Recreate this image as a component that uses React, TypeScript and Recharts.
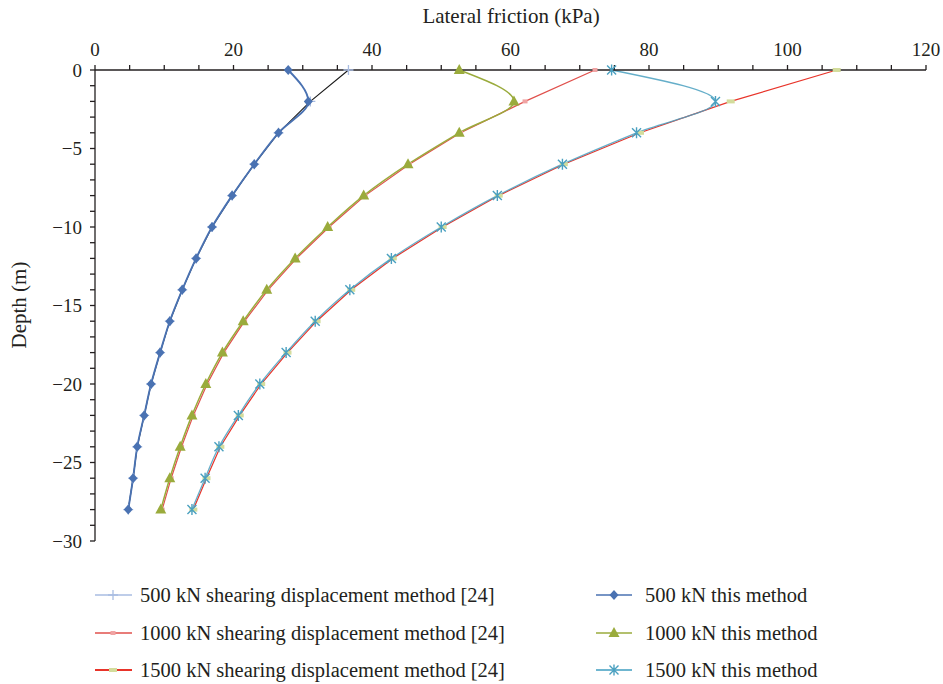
import React from "react";
import { LineChart, Line, XAxis, YAxis } from "recharts";

// depth (m) of each measuring point
const depths = [0, -2, -4, -6, -8, -10, -12, -14, -16, -18, -20, -22, -24, -26, -28];

// lateral friction (kPa)
const shear500 = [36.6, 31.1, 26.5, 23.0, 19.8, 16.9, 14.6, 12.6, 10.8, 9.4, 8.1, 7.1, 6.1, 5.5, 4.8];
const shear1000 = [72.2, 62.1, 52.8, 45.4, 39.0, 33.8, 29.1, 25.0, 21.6, 18.6, 16.2, 14.2, 12.5, 11.0, 9.7];
const shear1500 = [107.1, 91.8, 78.7, 67.7, 58.3, 50.2, 43.0, 37.0, 32.0, 27.8, 24.0, 20.9, 18.1, 16.1, 14.2];
const method500 = [27.9, 30.8, 26.5, 23.0, 19.8, 16.9, 14.6, 12.6, 10.8, 9.4, 8.1, 7.1, 6.1, 5.5, 4.8];
const method1000 = [52.6, 60.5, 52.6, 45.2, 38.8, 33.6, 28.9, 24.8, 21.4, 18.4, 16.0, 14.0, 12.3, 10.8, 9.5];
const method1500 = [74.6, 89.6, 78.2, 67.5, 58.1, 50.0, 42.8, 36.8, 31.8, 27.6, 23.8, 20.7, 17.9, 15.9, 14.0];

const xTicks = Array.from({ length: 25 }, (_, i) => i * 5);
const yTicks = Array.from({ length: 31 }, (_, i) => -i);

const legendNames = [
  "500 kN shearing displacement method [24]",
  "1000 kN shearing displacement method [24]",
  "1500 kN shearing displacement method [24]",
  "500 kN this method",
  "1000 kN this method",
  "1500 kN this method",
];

const rows = depths.map((depth, i) => ({
  depth,
  s500: shear500[i],
  s1000: shear1000[i],
  s1500: shear1500[i],
  m500: method500[i],
  m1000: method1000[i],
  m1500: method1500[i],
}));

const FONT = '"Liberation Serif", "DejaVu Serif", serif';
const INK = "#231f20";

const C = {
  s500Line: "#1a1a1a",
  s500Mark: "#a9bde2",
  s1000Line: "#e0504c",
  s1000Mark: "#f0a3a3",
  s1500Line: "#e8342a",
  s1500Mark: "#d3dc9c",
  m500: "#4a72b2",
  m1000: "#9aab3c",
  m1500: "#4aa0c0",
};

// marker shapes
const plus = (x: number, y: number, c: string, k?: string) => (
  <path key={k} d={`M${x - 5},${y}H${x + 5}M${x},${y - 5}V${y + 5}`} stroke={c} strokeWidth={1.3} fill="none" />
);
const rect = (x: number, y: number, w: number, h: number, c: string, k?: string) => (
  <rect key={k} x={x - w / 2} y={y - h / 2} width={w} height={h} fill={c} />
);
const diamond = (x: number, y: number, c: string, k?: string) => (
  <path key={k} d={`M${x},${y - 5}L${x + 4.5},${y}L${x},${y + 5}L${x - 4.5},${y}Z`} fill={c} />
);
const triangle = (x: number, y: number, c: string, k?: string) => (
  <path key={k} d={`M${x},${y - 6}L${x + 5.5},${y + 4}L${x - 5.5},${y + 4}Z`} fill={c} />
);
const star = (x: number, y: number, c: string, k?: string) => (
  <path
    key={k}
    d={`M${x - 4.5},${y - 4.5}L${x + 4.5},${y + 4.5}M${x - 4.5},${y + 4.5}L${x + 4.5},${y - 4.5}M${x},${y - 5.5}V${y + 5.5}`}
    stroke={c}
    strokeWidth={1.4}
    fill="none"
  />
);

const dotOf = (name: string, draw: (x: number, y: number, k: string) => React.ReactElement) =>
  (p: any) => draw(p.cx, p.cy, `${name}-${p.index}`);

const Legend = () => {
  const rowsY = [595, 633, 670];
  const icons = [
    (y: number) => (
      <g>
        <line x1={95} x2={132} y1={y} y2={y} stroke={C.s500Mark} strokeWidth={1.5} />
        {plus(113, y, C.s500Mark)}
      </g>
    ),
    (y: number) => (
      <g>
        <line x1={95} x2={132} y1={y} y2={y} stroke={C.s1000Line} strokeWidth={1.5} />
        {rect(113, y, 5, 4, C.s1000Mark)}
      </g>
    ),
    (y: number) => (
      <g>
        <line x1={95} x2={132} y1={y} y2={y} stroke={C.s1500Line} strokeWidth={2} />
        {rect(113, y, 8, 4, C.s1500Mark)}
      </g>
    ),
    (y: number) => (
      <g>
        <line x1={596} x2={632} y1={y} y2={y} stroke={C.m500} strokeWidth={1.5} />
        {diamond(614, y, C.m500)}
      </g>
    ),
    (y: number) => (
      <g>
        <line x1={596} x2={632} y1={y} y2={y} stroke={C.m1000} strokeWidth={1.5} />
        {triangle(614, y, C.m1000)}
      </g>
    ),
    (y: number) => (
      <g>
        <line x1={596} x2={632} y1={y} y2={y} stroke="#6fb6d0" strokeWidth={2} />
        {star(614, y, C.m1500)}
      </g>
    ),
  ];
  return (
    <svg width={943} height={684} style={{ position: "absolute", left: 0, top: 0, pointerEvents: "none" }}>
      {legendNames.map((name, i) => {
        const y = rowsY[i % 3];
        const tx = i < 3 ? 140 : 645;
        return (
          <g key={name}>
            {icons[i](y)}
            <text x={tx} y={y} dominantBaseline="central" fontFamily={FONT} fontSize={20.5} fill={INK}>
              {name}
            </text>
          </g>
        );
      })}
    </svg>
  );
};

const fmtX = (v: number) => (v % 20 === 0 ? String(v) : "");
const fmtY = (v: number) => (v % 5 === 0 ? (v < 0 ? `\u2212${-v}` : String(v)) : "");

export default function App() {
  return (
    <div style={{ position: "absolute", left: 0, top: 0, width: 943, height: 684, background: "#fff" }}>
      <LineChart
        layout="vertical"
        width={943}
        height={684}
        data={rows}
        margin={{ top: 30, right: 17, left: 35, bottom: 143 }}
      >
        <XAxis
          type="number"
          orientation="top"
          domain={[0, 120]}
          ticks={xTicks}
          interval={0}
          tickFormatter={fmtX}
          height={40}
          tickSize={5}
          tickMargin={9}
          stroke={INK}
          strokeWidth={1.3}
          tick={{ fontFamily: FONT, fontSize: 19, fill: INK }}
          label={{
            content: () => (
              <text x={511} y={16} textAnchor="middle" dominantBaseline="central" fontFamily={FONT} fontSize={21} fill={INK}>
                Lateral friction (kPa)
              </text>
            ),
          }}
        />
        <YAxis
          type="number"
          dataKey="depth"
          domain={[-30, 0]}
          reversed
          ticks={yTicks}
          interval={0}
          tickFormatter={fmtY}
          width={60}
          tickSize={5}
          tickMargin={8}
          stroke={INK}
          strokeWidth={1.3}
          tick={{ fontFamily: FONT, fontSize: 19, fill: INK }}
          label={{
            content: () => (
              <text
                x={19}
                y={305}
                transform="rotate(-90 19 305)"
                textAnchor="middle"
                dominantBaseline="central"
                fontFamily={FONT}
                fontSize={21}
                fill={INK}
              >
                Depth (m)
              </text>
            ),
          }}
        />
        <Line
          dataKey="s500"
          type="linear"
          stroke={C.s500Line}
          strokeWidth={1.1}
          dot={dotOf("s500", (x, y, k) => plus(x, y, C.s500Mark, k))}
          activeDot={false}
          isAnimationActive={false}
        />
        <Line
          dataKey="s1000"
          type="linear"
          stroke={C.s1000Line}
          strokeWidth={1.2}
          dot={dotOf("s1000", (x, y, k) => rect(x, y, 5, 4, C.s1000Mark, k))}
          activeDot={false}
          isAnimationActive={false}
        />
        <Line
          dataKey="s1500"
          type="linear"
          stroke={C.s1500Line}
          strokeWidth={1.2}
          dot={dotOf("s1500", (x, y, k) => rect(x, y, 8, 4, C.s1500Mark, k))}
          activeDot={false}
          isAnimationActive={false}
        />
        <Line
          dataKey="m500"
          type="monotone"
          stroke={C.m500}
          strokeWidth={1.9}
          dot={dotOf("m500", (x, y, k) => diamond(x, y, C.m500, k))}
          activeDot={false}
          isAnimationActive={false}
        />
        <Line
          dataKey="m1000"
          type="monotone"
          stroke={C.m1000}
          strokeWidth={1.5}
          dot={dotOf("m1000", (x, y, k) => triangle(x, y, C.m1000, k))}
          activeDot={false}
          isAnimationActive={false}
        />
        <Line
          dataKey="m1500"
          type="monotone"
          stroke={C.m1500}
          strokeWidth={1.3}
          strokeOpacity={0.85}
          dot={dotOf("m1500", (x, y, k) => star(x, y, C.m1500, k))}
          activeDot={false}
          isAnimationActive={false}
        />
      </LineChart>
      <Legend />
    </div>
  );
}
